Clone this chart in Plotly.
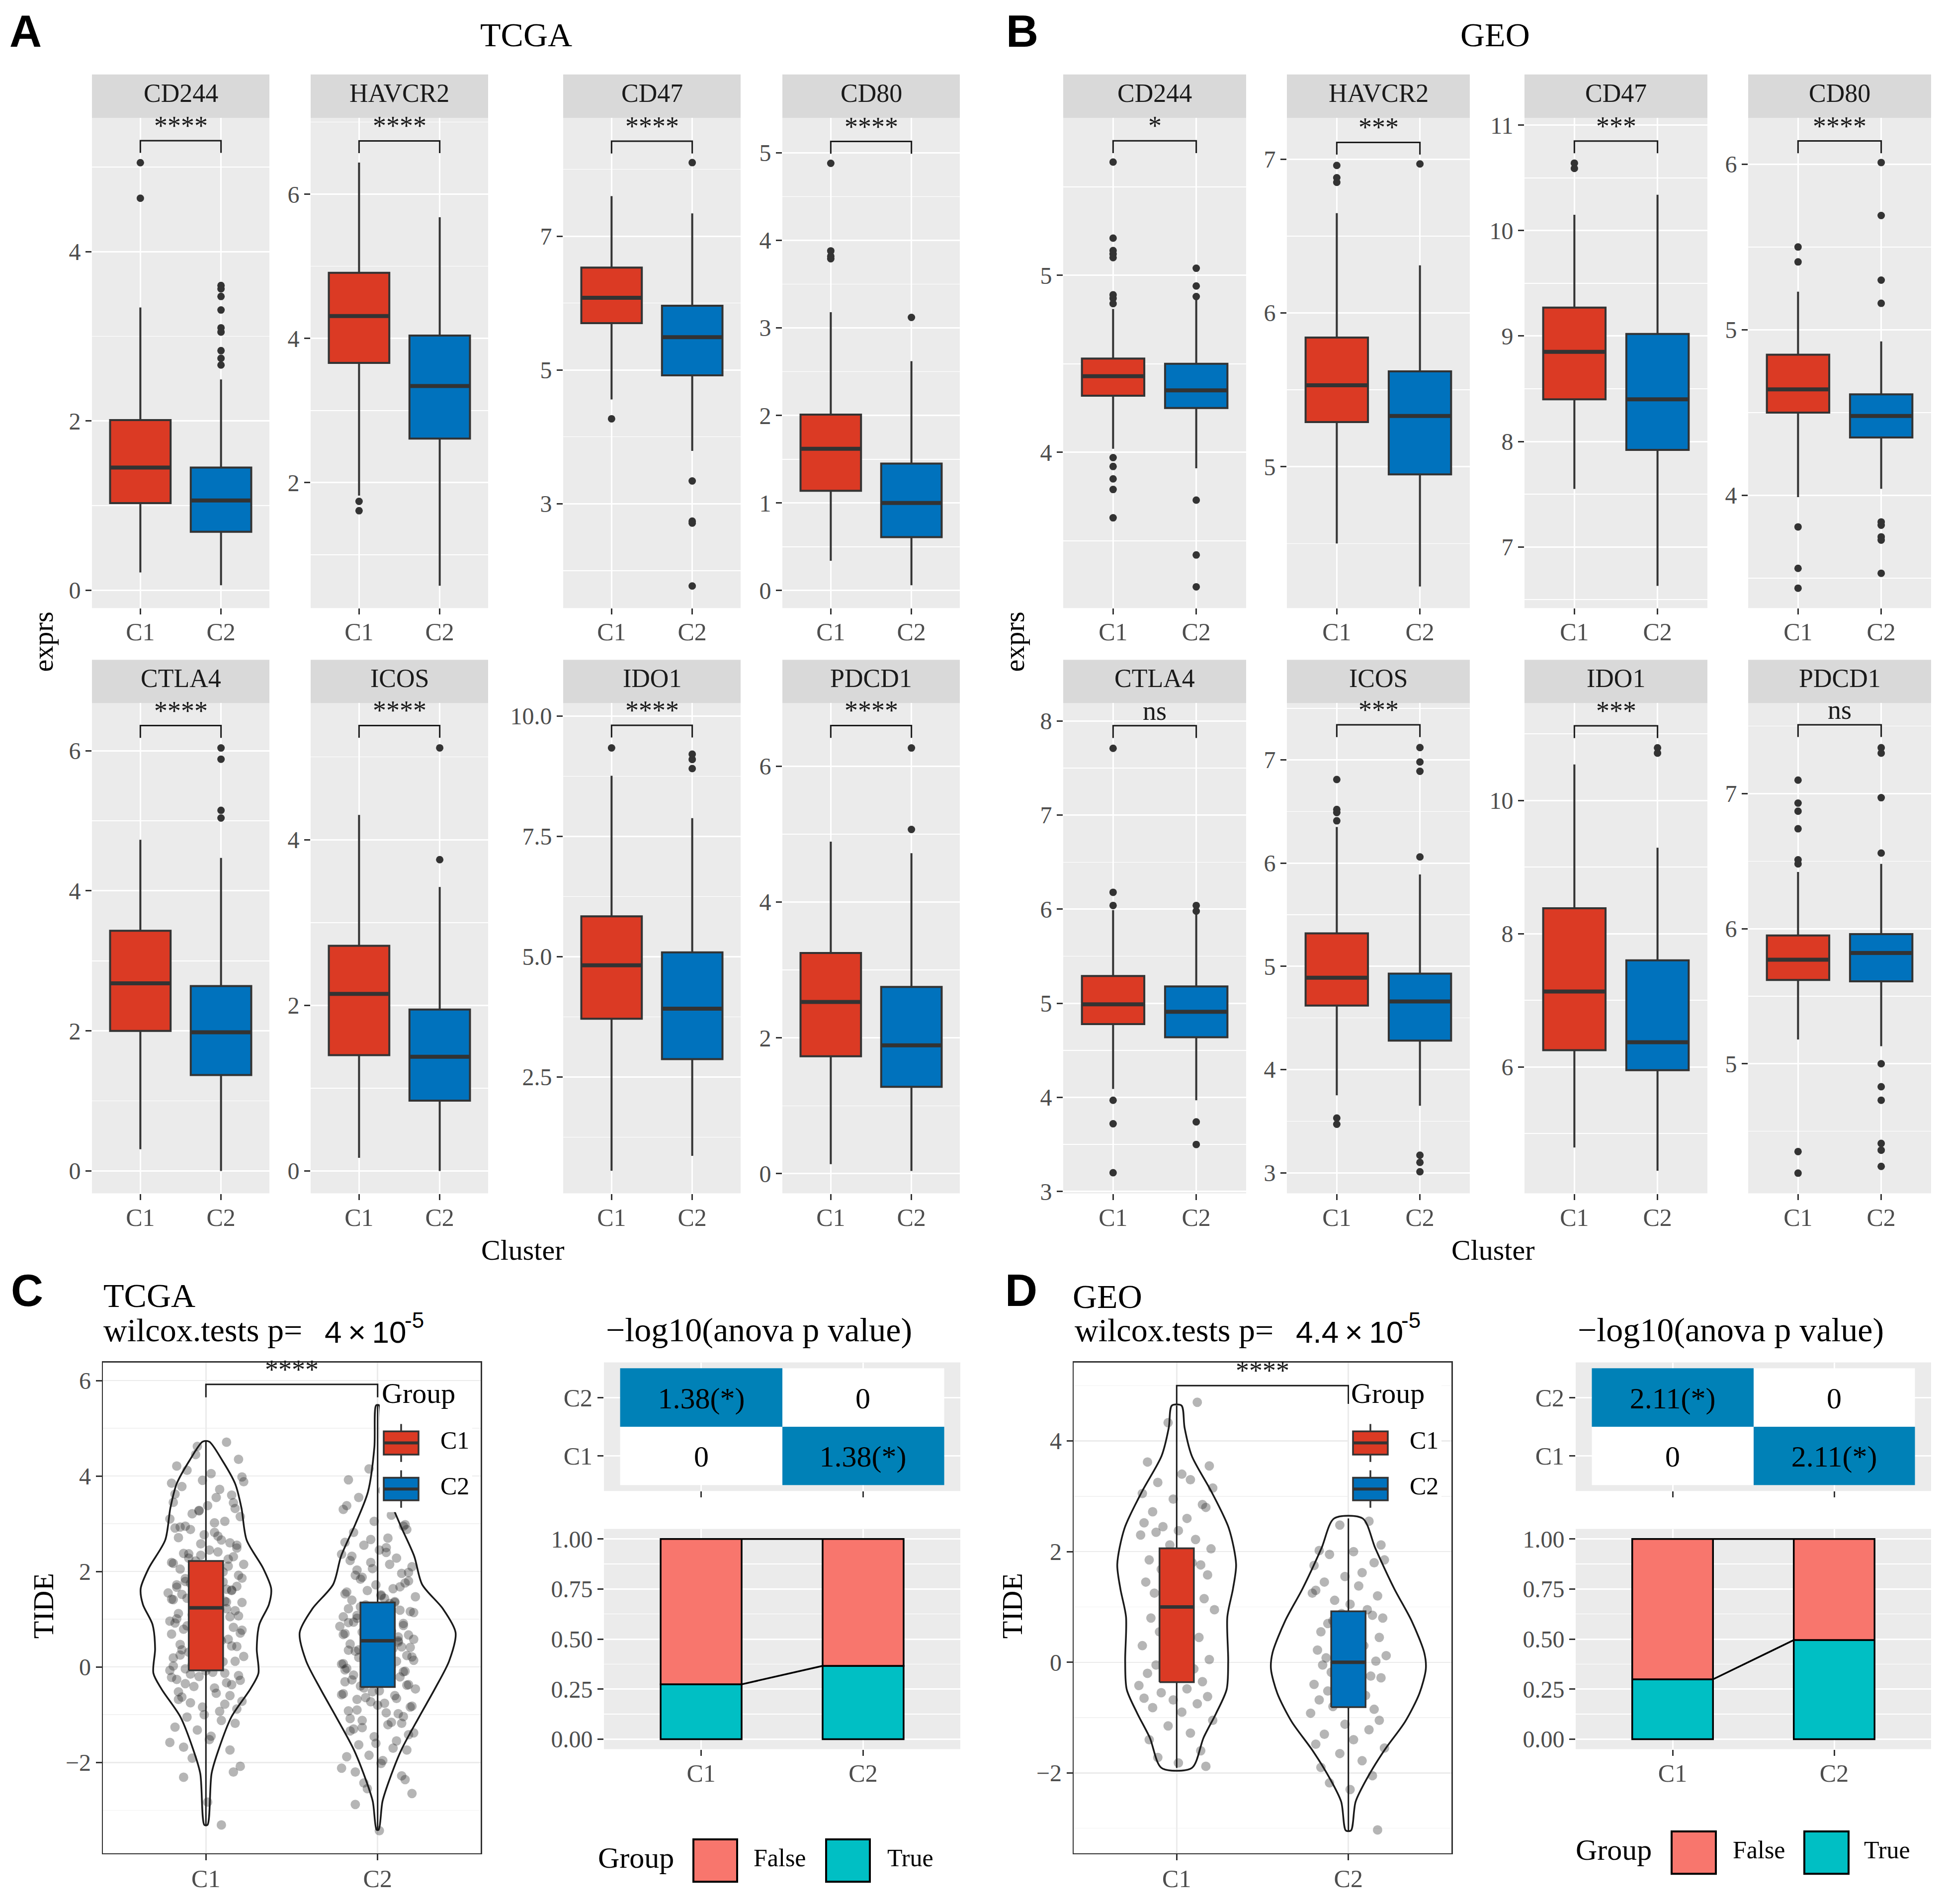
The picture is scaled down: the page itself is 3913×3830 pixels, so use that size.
import plotly.graph_objects as go

W, H = 3913, 3830
SERIF = "Liberation Serif"
SANS = "Liberation Sans"
RED = "#DB3A24"
BLUE = "#0072BD"
TILE_BLUE = "#0081B7"
FALSE_COL = "#F8766D"
TRUE_COL = "#00BFC4"
PANEL_BG = "#EBEBEB"
STRIP_BG = "#D9D9D9"
DARK = "#333333"
TICK_COL = "#4D4D4D"

# ---------------- data ----------------
clusters = ["C1", "C2"]
genes = ["CD244", "HAVCR2", "CD47", "CD80", "CTLA4", "ICOS", "IDO1", "PDCD1"]

# TCGA box statistics (per gene)
tcga_c1_low = [0.21, 1.82, 4.56, 0.34, 0.31, 0.16, 0.55, 0.14]
tcga_c1_q1 = [1.03, 3.66, 5.70, 1.14, 2.00, 1.40, 3.71, 1.73]
tcga_c1_med = [1.45, 4.31, 6.08, 1.62, 2.68, 2.14, 4.82, 2.53]
tcga_c1_q3 = [2.01, 4.91, 6.53, 2.01, 3.43, 2.72, 5.84, 3.25]
tcga_c1_high = [3.34, 6.44, 7.60, 3.18, 4.73, 4.30, 8.76, 4.89]
tcga_c2_low = [0.06, 0.57, 3.79, 0.06, 0.00, 0.00, 0.86, 0.04]
tcga_c2_q1 = [0.69, 2.61, 4.92, 0.61, 1.37, 0.85, 2.87, 1.28]
tcga_c2_med = [1.06, 3.34, 5.49, 1.00, 1.98, 1.38, 3.92, 1.89]
tcga_c2_q3 = [1.45, 4.04, 5.96, 1.45, 2.64, 1.95, 5.09, 2.75]
tcga_c2_high = [2.49, 5.68, 7.34, 2.62, 4.47, 3.43, 7.88, 4.72]
tcga_c1_out = [[5.05, 4.63], [1.74, 1.61], [4.27], [4.88, 3.88, 3.82, 3.79],
               [], [], [9.34], []]
tcga_c2_out = [[3.60, 3.56, 3.47, 3.31, 3.10, 3.05, 2.83, 2.74, 2.66], [],
               [8.10, 3.34, 2.74, 2.71, 1.77], [3.12], [6.04, 5.88, 5.15, 5.04],
               [5.11, 3.76], [9.21, 9.10, 8.91], [6.27, 5.07]]
tcga_sig = ["****", "****", "****", "****", "****", "****", "****", "****"]
tcga_bracket = [5.31, 6.74, 8.42, 5.13, 6.36, 5.38, 9.81, 6.60]

# GEO box statistics (per gene)
geo_c1_low = [4.02, 4.50, 7.55, 3.99, 4.09, 3.75, 4.79, 5.18]
geo_c1_q1 = [4.32, 5.29, 8.40, 4.50, 4.78, 4.62, 6.25, 5.62]
geo_c1_med = [4.43, 5.53, 8.85, 4.64, 4.99, 4.89, 7.13, 5.77]
geo_c1_q3 = [4.53, 5.84, 9.27, 4.85, 5.29, 5.32, 8.38, 5.95]
geo_c1_high = [4.81, 6.65, 10.15, 5.23, 5.99, 6.35, 10.54, 6.42]
geo_c2_low = [3.91, 4.22, 6.63, 4.04, 3.97, 3.65, 4.44, 5.13]
geo_c2_q1 = [4.25, 4.95, 7.92, 4.35, 4.64, 4.28, 5.95, 5.61]
geo_c2_med = [4.35, 5.33, 8.40, 4.48, 4.91, 4.66, 6.37, 5.82]
geo_c2_q3 = [4.50, 5.62, 9.02, 4.61, 5.18, 4.93, 7.60, 5.96]
geo_c2_high = [4.87, 6.31, 10.34, 4.93, 5.99, 5.89, 9.29, 6.48]
geo_c1_out = [[5.64, 5.21, 5.14, 5.12, 5.10, 4.89, 4.87, 4.84, 3.97, 3.92, 3.85, 3.79, 3.63],
              [6.96, 6.88, 6.85], [10.64, 10.59], [5.50, 5.41, 3.81, 3.56, 3.44],
              [7.71, 6.18, 6.04, 3.97, 3.72, 3.20], [6.81, 6.52, 6.49, 6.41, 3.53, 3.47],
              [], [7.10, 6.93, 6.87, 6.74, 6.51, 6.48, 4.35, 4.19]]
geo_c2_out = [[5.04, 4.94, 4.88, 3.73, 3.42, 3.24], [6.97], [],
              [6.01, 5.69, 5.30, 5.16, 3.84, 3.82, 3.75, 3.73, 3.53],
              [6.04, 5.98, 3.74, 3.50], [7.12, 6.98, 6.89, 6.06, 3.17, 3.10, 3.01],
              [10.79, 10.71], [7.34, 7.30, 6.97, 6.56, 5.00, 4.83, 4.73, 4.41, 4.36, 4.24]]
geo_sig = ["*", "***", "***", "****", "ns", "***", "***", "ns"]
geo_bracket = [5.76, 7.11, 10.85, 6.14, 7.95, 7.34, 11.12, 7.51]

# TIDE box statistics (C1, C2)
tide_tcga_low = [-3.31, -3.41]
tide_tcga_q1 = [-0.07, -0.42]
tide_tcga_med = [1.24, 0.55]
tide_tcga_q3 = [2.22, 1.35]
tide_tcga_high = [4.72, 5.48]
tide_geo_low = [-1.91, -3.05]
tide_geo_q1 = [-0.36, -0.81]
tide_geo_med = [1.00, 0.00]
tide_geo_q3 = [2.06, 0.92]
tide_geo_high = [4.64, 2.60]

# violin outlines: y levels and half-widths
tcga_c1_vy = [4.72, 4.34, 3.84, 3.33, 2.66, 2.07, 1.64, 1.31, 0.89, 0.38, -0.13, -0.46, -1.05, -1.73, -2.23, -3.31]
tcga_c1_vw = [0.019, 0.093, 0.170, 0.207, 0.237, 0.333, 0.380, 0.367, 0.311, 0.296, 0.306, 0.259, 0.148, 0.074, 0.033, 0.009]
tcga_c2_vy = [5.48, 4.60, 3.67, 2.99, 2.32, 1.73, 1.22, 0.72, 0.13, -0.46, -1.05, -1.73, -2.40, -2.82, -3.41]
tcga_c2_vw = [0.009, 0.019, 0.056, 0.130, 0.213, 0.259, 0.380, 0.454, 0.417, 0.333, 0.241, 0.139, 0.065, 0.028, 0.006]
geo_c1_vy = [4.64, 4.24, 3.73, 3.08, 2.42, 1.77, 1.33, 0.82, 0.02, -0.49, -0.92, -1.36, -1.91]
geo_c1_vw = [0.028, 0.046, 0.088, 0.203, 0.304, 0.346, 0.328, 0.295, 0.300, 0.291, 0.230, 0.157, 0.088]
geo_c2_vy = [2.60, 2.06, 1.33, 0.75, 0.17, -0.12, -0.56, -1.07, -1.58, -2.09, -2.52, -3.04]
geo_c2_vw = [0.083, 0.157, 0.267, 0.368, 0.442, 0.451, 0.414, 0.331, 0.212, 0.110, 0.042, 0.015]

# TIDE sample points
tcga_c1_tide = [4.71, 4.62, 4.35, 4.21, 4.05, 4.12, 3.98, 3.85, 3.72, 3.91, 3.60, 3.78, 3.55,
                3.45, 3.32, 3.21, 3.38, 3.10, 3.05, 3.28, 3.15, 2.95, 2.82, 2.71, 2.60, 2.88,
                2.55, 2.77, 2.66, 2.91, 2.45, 2.38, 2.31, 2.22, 2.15, 2.05, 2.41, 2.28, 2.11,
                2.34, 2.19, 2.02, 1.98, 1.92, 1.85, 1.78, 1.72, 1.66, 1.60, 1.55, 1.88, 1.75,
                1.69, 1.81, 1.63, 1.52, 1.48, 1.41, 1.35, 1.27, 1.20, 1.12, 1.05, 1.44, 1.31,
                1.18, 1.09, 1.38, 0.96, 0.88, 0.79, 0.71, 0.62, 0.55, 0.92, 0.83, 0.67, 0.58,
                0.47, 0.39, 0.31, 0.22, 0.15, 0.08, 0.02, 0.43, 0.27, 0.11, -0.04, -0.11,
                -0.18, -0.26, -0.33, -0.41, -0.08, -0.22, -0.37, -0.15, -0.55, -0.63, -0.72,
                -0.84, -0.93, -0.68, -0.78, -1.05, -1.18, -1.32, -1.45, -1.58, -1.74, -1.91,
                -2.08, -2.31, -2.83, -3.31,
                3.62, 3.44, 3.27, 3.02, 2.93, 2.74, 2.58, 2.49, 2.37, 2.26, 2.17, 2.08, 1.99,
                1.94, 1.86, 1.79, 1.73, 1.67, 1.61, 1.57, 1.50, 1.42, 1.36, 1.29, 1.22, 1.14,
                1.07, 1.01, 0.94, 0.86, 0.77, 0.69, 0.60, 0.51, 0.44, 0.36, 0.28, 0.19, 0.12,
                0.05, -0.01, -0.07, -0.13, -0.20, -0.28, -0.35, -0.44, -0.52, -0.60, -0.75,
                -0.88, -1.00, -1.12, -1.26, -1.52, -1.68, -2.20, 4.45, 3.88, 0.25]
tcga_c2_tide = [5.48, 4.15, 4.02, 3.92, 3.70, 3.55, 3.45, 3.30, 3.18, 3.05, 2.95, 2.82, 2.70,
                2.61, 2.88, 2.55, 2.45, 2.36, 2.28, 2.19, 2.10, 2.03, 2.40, 2.23, 1.96, 1.88,
                1.80, 1.72, 1.64, 1.57, 1.51, 1.92, 1.76, 1.60, 1.47, 1.40, 1.33, 1.26, 1.19,
                1.12, 1.05, 1.44, 1.30, 1.16, 1.08, 1.37, 1.22, 0.97, 0.91, 0.85, 0.79, 0.73,
                0.67, 0.61, 0.55, 0.94, 0.82, 0.70, 0.58, 0.88, 0.76, 0.48, 0.42, 0.36, 0.30,
                0.24, 0.18, 0.12, 0.06, 0.45, 0.33, 0.21, 0.09, 0.39, -0.03, -0.09, -0.15,
                -0.21, -0.27, -0.33, -0.40, -0.46, -0.12, -0.30, -0.06, -0.37, -0.52, -0.60,
                -0.68, -0.76, -0.84, -0.92, -0.98, -0.64, -0.80, -0.56, -1.04, -1.12, -1.21,
                -1.30, -1.38, -1.46, -1.16, -1.34, -1.55, -1.63, -1.74, -1.85, -1.96, -2.12,
                -2.28, -2.43, -2.65, -2.88, -3.43,
                3.85, 3.38, 2.98, 2.67, 2.50, 2.32, 2.15, 2.06, 1.98, 1.84, 1.68, 1.53, 1.49,
                1.35, 1.24, 1.14, 1.02, 0.99, 0.93, 0.87, 0.81, 0.74, 0.68, 0.63, 0.57, 0.52,
                0.47, 0.41, 0.35, 0.28, 0.20, 0.14, 0.07, 0.01, -0.04, -0.10, -0.17, -0.24,
                -0.31, -0.38, -0.44, -0.50, -0.58, -0.66, -0.73, -0.82, -0.90, -0.96, -1.08,
                -1.18, -1.27, -1.42, -1.60, -1.70, -1.88, -2.02, -2.20, -2.36, -2.55, 4.40]
geo_c1_tide = [4.70, 4.33, 3.55, 3.62, 3.40, 3.25, 3.15, 3.05, 3.30, 2.95, 2.85, 2.72, 2.60,
               2.52, 2.80, 2.45, 2.38, 2.30, 2.22, 2.12, 2.05, 2.35, 1.95, 1.85, 1.76, 1.68,
               1.58, 1.52, 1.80, 1.45, 1.35, 1.25, 1.15, 1.05, 0.95, 0.80, 0.65, 0.55, 0.45,
               0.38, 0.30, 0.15, 0.10, 0.05, -0.05, -0.12, -0.20, -0.28, -0.35, -0.42, -0.48,
               -0.55, -0.62, -0.68, -0.75, -0.82, -0.90, -0.65, -1.05, -1.15, -1.28, -1.40,
               -1.60, -1.72, -1.82, -1.88]
geo_c2_tide = [2.55, 2.48, 2.12, 2.02, 2.00, 1.95, 1.85, 1.75, 1.62, 1.55, 1.80, 1.45, 1.38,
               1.30, 1.20, 1.12, 1.05, 1.25, 0.95, 0.88, 0.80, 0.70, 0.62, 0.55, 0.85, 0.75,
               0.45, 0.38, 0.30, 0.22, 0.15, 0.08, 0.02, 0.35, 0.12, -0.05, -0.12, -0.18,
               -0.25, -0.32, -0.40, -0.46, -0.10, -0.28, -0.52, -0.60, -0.68, -0.75, -0.85,
               -0.92, -0.70, -0.80, -1.05, -1.12, -1.22, -1.30, -1.40, -1.48, -1.55, -1.65,
               -1.78, -1.90, -2.05, -2.18, -2.30, -3.03]
# horizontal jitter of the sample points
point_jitter = [0.12, -0.05, 0.19, -0.17, 0.03, -0.11, 0.21, -0.20, 0.08, -0.02, 0.15, -0.14, 0.06, -0.19, 0.17, -0.08, 0.01, -0.21, 0.11, -0.04,
                0.20, -0.12, 0.05, -0.16, 0.14, -0.09, 0.18, -0.01, 0.09, -0.18, 0.02, -0.13, 0.16, -0.06, 0.22, -0.15, 0.07, -0.10, 0.13, -0.03,
                -0.20, 0.04, -0.07, 0.19, -0.12, 0.10, -0.17, 0.00, 0.15, -0.22, 0.06, -0.09, 0.18, -0.02, 0.12, -0.14, 0.03, -0.19, 0.21, -0.05,
                0.08, -0.16, 0.14, -0.11, 0.01, 0.17, -0.08, 0.11, -0.21, 0.05, -0.13, 0.20, -0.04, 0.09, -0.18, 0.16, -0.01, 0.13, -0.15, 0.02,
                -0.10, 0.22, -0.06, 0.07, -0.19, 0.18, -0.03, 0.10, -0.12, 0.04, 0.19, -0.17, 0.12, -0.07, 0.00, -0.20, 0.15, -0.09, 0.06, -0.14,
                0.21, -0.02, 0.08, -0.16, 0.11, -0.11, 0.17, -0.05, 0.03, -0.21, 0.14, -0.08, 0.20, -0.13, 0.01, 0.09, -0.18, 0.16, -0.04, 0.05,
                -0.15, 0.07, -0.03, 0.18, -0.10, 0.13, -0.19, 0.02, 0.10, -0.07, 0.21, -0.12, 0.05, -0.17, 0.15, -0.01, 0.08, -0.20, 0.12, -0.06]

# anova heatmap and response proportions
anova_tcga = 1.38
anova_geo = 2.11
resp_groups = ["False", "True"]
tcga_true_frac = [0.274, 0.366]
geo_true_frac = [0.299, 0.495]

# ---------------- layout helpers ----------------
tcga_yrange = [[-0.21, 5.58], [0.26, 7.06], [1.44, 8.77], [-0.20, 5.40],
               [-0.32, 6.68], [-0.27, 5.65], [0.08, 10.27], [-0.29, 6.93]]
tcga_tick0 = [0, 0, 1, 0, 0, 0, 0, 0]
tcga_dtick = [2, 2, 2, 1, 2, 2, 2.5, 2]
tcga_fmt = ["", "", "", "", "", "", ".1f", ""]
geo_yrange = [[3.12, 5.89], [4.08, 7.27], [6.42, 11.07], [3.32, 6.28],
              [2.98, 8.19], [2.80, 7.55], [4.10, 11.46], [4.04, 7.67]]
geo_tick0 = [0, 0, 0, 0, 0, 0, 0, 0]
geo_dtick = [1, 1, 1, 1, 1, 1, 2, 1]
geo_fmt = ["", "", "", "", "", "", "", ""]

A_cols = [(185, 542), (625, 982), (1133, 1490), (1574, 1931)]
B_cols = [(2139, 2507), (2589, 2957), (3067, 3435), (3517, 3885)]
ROWS = [(228, 1223), (1416, 2411)]
STRIP_H = 88
TEXT_BIAS = -6
DY = 6          # vertical offset of the lower (C/D) section
LEG_DY = 14     # extra offset of the bottom Group legends

fig = go.Figure()
axes_layout = {}
shapes = []
annots = []
n_ax = [0]


def fx(x):
    return x / W


def fy(y):
    return 1 - y / H


def new_axes(x0, x1, y0, y1, xr, yr):
    n_ax[0] += 1
    n = n_ax[0]
    s = "" if n == 1 else str(n)
    axes_layout["xaxis" + s] = dict(domain=[fx(x0), fx(x1)], anchor="y" + s, range=xr)
    axes_layout["yaxis" + s] = dict(domain=[fy(y1), fy(y0)], anchor="x" + s, range=yr)
    return "x" + s, "y" + s, "xaxis" + s, "yaxis" + s


def tick_style(grid_color, gw, size=48):
    return dict(ticks="outside", ticklen=12, tickwidth=3, tickcolor=DARK,
                tickfont=dict(family=SERIF, size=size, color=TICK_COL),
                showgrid=True, gridcolor=grid_color, gridwidth=gw, zeroline=False,
                fixedrange=True)


def rect(x0, x1, y0, y1, fill, line_color=None, lw=0, layer="below"):
    shapes.append(dict(type="rect", xref="paper", yref="paper", x0=fx(x0), x1=fx(x1),
                       y0=fy(y1), y1=fy(y0), fillcolor=fill, layer=layer,
                       line=dict(width=lw, color=line_color or fill)))


def pline(x0, y0, x1, y1, color, lw):
    shapes.append(dict(type="line", xref="paper", yref="paper", x0=fx(x0), x1=fx(x1),
                       y0=fy(y0), y1=fy(y1), line=dict(color=color, width=lw), layer="above"))


def text(x, y, s, size, color="black", family=SERIF, xanchor="center", angle=0):
    annots.append(dict(x=fx(x), y=fy(y + TEXT_BIAS), xref="paper", yref="paper", text=s,
                       showarrow=False, xanchor=xanchor, yanchor="middle", textangle=angle,
                       font=dict(family=family, size=size, color=color)))


def add_box(xr, yr, c, low, q1, med, q3, high, width, color, lw, mw):
    fig.add_trace(go.Box(x=[c], q1=[q1], median=[med], q3=[q3], lowerfence=[low],
                         upperfence=[high], width=width, fillcolor=color,
                         line=dict(color=DARK, width=lw), whiskerwidth=0, boxpoints=False,
                         xaxis=xr, yaxis=yr, hoverinfo="skip", showlegend=False))
    fig.add_trace(go.Scatter(x=[c - width / 2, c + width / 2], y=[med, med], mode="lines",
                             line=dict(color=DARK, width=mw), xaxis=xr, yaxis=yr,
                             hoverinfo="skip", showlegend=False))


def add_box_scatter(xr, yr, c, low, q1, med, q3, high, width, color, lw, mw):
    # box built from scatter traces so it stacks above the jittered points
    h = width / 2
    for a, b in ((low, q1), (q3, high)):
        fig.add_trace(go.Scatter(x=[c, c], y=[a, b], mode="lines",
                                 line=dict(color="#1A1A1A", width=3), xaxis=xr, yaxis=yr,
                                 hoverinfo="skip", showlegend=False))
    fig.add_trace(go.Scatter(x=[c - h, c + h, c + h, c - h, c - h], y=[q1, q1, q3, q3, q1],
                             mode="lines", fill="toself", fillcolor=color,
                             line=dict(color=DARK, width=lw), xaxis=xr, yaxis=yr,
                             hoverinfo="skip", showlegend=False))
    fig.add_trace(go.Scatter(x=[c - h, c + h], y=[med, med], mode="lines",
                             line=dict(color=DARK, width=mw), xaxis=xr, yaxis=yr,
                             hoverinfo="skip", showlegend=False))


def box_panel(x0, x1, y0, y1, g, yrange, tick0, dtick, fmt,
              c1, c2, out1, out2, bracket, sig):
    xr, yr, xa, ya = new_axes(x0, x1, y0, y1, [0.4, 2.6], yrange)
    axes_layout[xa].update(tick_style("white", 3, 50), tickmode="array", tickvals=[1, 2],
                           ticktext=clusters, showline=False, ticklabelstandoff=-8)
    axes_layout[ya].update(tick_style("white", 3), tick0=tick0, dtick=dtick, tickformat=fmt,
                           showline=False,
                           minor=dict(tick0=tick0, dtick=dtick / 2, showgrid=True,
                                      gridcolor="white", gridwidth=1.5))
    rect(x0, x1, y0, y1, PANEL_BG)
    rect(x0, x1, y0 - STRIP_H, y0, STRIP_BG)
    text((x0 + x1) / 2, y0 - STRIP_H / 2, genes[g], 52, "#1A1A1A")
    for k, (st, col, out) in enumerate([(c1, RED, out1), (c2, BLUE, out2)]):
        c = k + 1
        add_box(xr, yr, c, st[0], st[1], st[2], st[3], st[4], 0.75, col, 4, 8)
        if out:
            fig.add_trace(go.Scatter(x=[c] * len(out), y=out, mode="markers",
                                     marker=dict(color=DARK, size=15), xaxis=xr, yaxis=yr,
                                     hoverinfo="skip", showlegend=False))
    tip = 0.025 * (yrange[1] - yrange[0])
    fig.add_trace(go.Scatter(x=[1, 1, 2, 2], y=[bracket - tip, bracket, bracket, bracket - tip],
                             mode="lines", line=dict(color="#1A1A1A", width=3), xaxis=xr,
                             yaxis=yr, hoverinfo="skip", showlegend=False))
    annots.append(dict(x=1.5, y=bracket, xref=xr, yref=yr, text=sig, showarrow=False,
                       yanchor="bottom", xanchor="center", yshift=-2,
                       font=dict(family=SERIF, size=54, color="#1A1A1A")))


def dataset_panels(cols, c1l, c1a, c1m, c1b, c1h, c2l, c2a, c2m, c2b, c2h,
                   o1, o2, yranges, t0, dt, fm, brk, sigs):
    for g in range(8):
        r, cidx = divmod(g, 4)
        x0, x1 = cols[cidx]
        y0, y1 = ROWS[r]
        box_panel(x0, x1, y0, y1, g, yranges[g], t0[g], dt[g], fm[g],
                  (c1l[g], c1a[g], c1m[g], c1b[g], c1h[g]),
                  (c2l[g], c2a[g], c2m[g], c2b[g], c2h[g]),
                  o1[g], o2[g], brk[g], sigs[g])


dataset_panels(A_cols, tcga_c1_low, tcga_c1_q1, tcga_c1_med, tcga_c1_q3, tcga_c1_high,
               tcga_c2_low, tcga_c2_q1, tcga_c2_med, tcga_c2_q3, tcga_c2_high,
               tcga_c1_out, tcga_c2_out, tcga_yrange, tcga_tick0, tcga_dtick, tcga_fmt,
               tcga_bracket, tcga_sig)
dataset_panels(B_cols, geo_c1_low, geo_c1_q1, geo_c1_med, geo_c1_q3, geo_c1_high,
               geo_c2_low, geo_c2_q1, geo_c2_med, geo_c2_q3, geo_c2_high,
               geo_c1_out, geo_c2_out, geo_yrange, geo_tick0, geo_dtick, geo_fmt,
               geo_bracket, geo_sig)

# titles / axis titles for A and B
text(1058, 66, "TCGA", 68)
text(3008, 66, "GEO", 68)
text(87, 1298, "exprs", 56, angle=-90)
text(2041, 1298, "exprs", 56, angle=-90)
text(1052, 2532, "Cluster", 58)
text(3004, 2532, "Cluster", 58)
for lx, ly, lt in [(51, 58, "A"), (2056, 58, "B"), (54, 2608 + DY, "C"), (2054, 2608 + DY, "D")]:
    text(lx, ly, "<b>" + lt + "</b>", 90, family=SANS)


# ---------------- violin panels ----------------
def violin_panel(x0, x1, y0, y1, yrange, vys, vws, pts, low, q1, med, q3, high,
                 bracket, tip, sig):
    xr, yr, xa, ya = new_axes(x0, x1, y0, y1, [0.4, 2.6], yrange)
    axes_layout[xa].update(tick_style("#EBEBEB", 2.5, 50), tickmode="array", tickvals=[1, 2],
                           ticktext=clusters, showline=True, mirror=True, linecolor=DARK,
                           linewidth=2.5, ticklabelstandoff=-6)
    axes_layout[ya].update(tick_style("#EBEBEB", 2.5), tick0=0, dtick=2, showline=True,
                           mirror=True, linecolor=DARK, linewidth=2.5,
                           minor=dict(tick0=0, dtick=1, showgrid=True, gridcolor="#F2F2F2",
                                      gridwidth=1.5))
    for k in range(2):
        c = k + 1
        vy, vw = vys[k], vws[k]
        xs = [c + w for w in vw] + [c - w for w in vw[::-1]] + [c + vw[0]]
        ys = list(vy) + list(vy[::-1]) + [vy[0]]
        fig.add_trace(go.Scatter(x=xs, y=ys, mode="lines",
                                 line=dict(color="#1A1A1A", width=3.5, shape="spline",
                                           smoothing=0.8),
                                 xaxis=xr, yaxis=yr, hoverinfo="skip", showlegend=False))
    for k in range(2):
        c = k + 1
        py = pts[k]
        px = [c + point_jitter[i % len(point_jitter)] for i in range(len(py))]
        fig.add_trace(go.Scatter(x=px, y=py, mode="markers",
                                 marker=dict(color="rgba(30,30,30,0.33)", size=19),
                                 xaxis=xr, yaxis=yr, hoverinfo="skip", showlegend=False))
    for k in range(2):
        add_box_scatter(xr, yr, k + 1, low[k], q1[k], med[k], q3[k], high[k], 0.2,
                        [RED, BLUE][k], 3.5, 7)
    fig.add_trace(go.Scatter(x=[1, 1, 2, 2], y=[bracket - tip, bracket, bracket, bracket - tip],
                             mode="lines", line=dict(color="#1A1A1A", width=3), xaxis=xr,
                             yaxis=yr, hoverinfo="skip", showlegend=False))
    annots.append(dict(x=1.5, y=bracket, xref=xr, yref=yr, text=sig, showarrow=False,
                       yanchor="bottom", xanchor="center", yshift=-2,
                       font=dict(family=SERIF, size=54, color="#1A1A1A")))


violin_panel(207, 967, 2748 + DY, 3744 + DY, [-3.90, 6.38], [tcga_c1_vy, tcga_c2_vy],
             [tcga_c1_vw, tcga_c2_vw], [tcga_c1_tide, tcga_c2_tide],
             tide_tcga_low, tide_tcga_q1, tide_tcga_med, tide_tcga_q3, tide_tcga_high,
             5.92, 0.27, "****")
violin_panel(2160, 2920, 2748 + DY, 3744 + DY, [-3.45, 5.42], [geo_c1_vy, geo_c2_vy],
             [geo_c1_vw, geo_c2_vw], [geo_c1_tide, geo_c2_tide],
             tide_geo_low, tide_geo_q1, tide_geo_med, tide_geo_q3, tide_geo_high,
             5.00, 0.33, "****")


def box_legend(dx, dy):
    rect(764 + dx, 950 + dx, 2786 + dy, 3046 + dy, "white", layer="above")
    text(766 + dx, 2810 + dy, "Group", 58, xanchor="left")
    for k, (ya, yb) in enumerate([(2882 + dy, 2929 + dy), (2976 + dy, 3022 + dy)]):
        xm = (772 + 842) / 2 + dx
        pline(xm, ya - 15, xm, ya, DARK, 3.5)
        pline(xm, yb, xm, yb + 15, DARK, 3.5)
        shapes.append(dict(type="rect", xref="paper", yref="paper", x0=fx(772 + dx),
                           x1=fx(842 + dx), y0=fy(yb), y1=fy(ya), fillcolor=[RED, BLUE][k],
                           line=dict(color=DARK, width=3.5), layer="above"))
        pline(772 + dx, (ya + yb) / 2, 842 + dx, (ya + yb) / 2, DARK, 6)
        text(884 + dx, (ya + yb) / 2, clusters[k], 50, xanchor="left")


box_legend(0, DY + 6)
box_legend(1950, DY + 6)

# violin titles
THIN = "\u2009"
text(206, 2618 + DY, "TCGA", 68, xanchor="left")
text(206, 2688 + DY, "wilcox.tests p=", 66, xanchor="left")
text(651, 2692 + DY, "4" + THIN + "\u00d7" + THIN + "10", 62, family=SANS, xanchor="left")
text(812, 2668 + DY, "-5", 44, family=SANS, xanchor="left")
text(2156, 2620 + DY, "GEO", 68, xanchor="left")
text(2160, 2688 + DY, "wilcox.tests p=", 66, xanchor="left")
text(2605, 2692 + DY, "4.4" + THIN + "\u00d7" + THIN + "10", 62, family=SANS, xanchor="left")
text(2817, 2668 + DY, "-5", 44, family=SANS, xanchor="left")
text(87, 3248 + DY, "TIDE", 58, angle=-90)
text(2036, 3248 + DY, "TIDE", 58, angle=-90)


# ---------------- anova heatmap + proportion bars ----------------
def anova_panels(x0, x1, val, true_frac, leg):
    hx, hy, hxa, hya = new_axes(x0, x1, 2748 + DY, 3009 + DY, [0.4, 2.6], [0.4, 2.6])
    axes_layout[hxa].update(tick_style("white", 3), tickmode="array", tickvals=[1, 2],
                            showticklabels=False)
    axes_layout[hya].update(tick_style("white", 3, 50), tickmode="array", tickvals=[1, 2],
                            ticktext=clusters)
    rect(x0, x1, 2748 + DY, 3009 + DY, PANEL_BG)
    lab = "%.2f(*)" % val
    fig.add_trace(go.Heatmap(x=[1, 2], y=[1, 2], z=[[0, val], [val, 0]],
                             text=[["0", lab], [lab, "0"]], texttemplate="%{text}",
                             textfont=dict(family=SERIF, size=60, color="black"),
                             colorscale=[[0, "white"], [1, TILE_BLUE]], zmin=0, zmax=val,
                             showscale=False, xaxis=hx, yaxis=hy, hoverinfo="skip"))
    text(x0 + 2, 2688 + DY, "\u2212log10(anova p value)", 68, xanchor="left")

    bx, by, bxa, bya = new_axes(x0, x1, 3086 + DY, 3533 + DY, [0.4, 2.6], [-0.05, 1.05])
    axes_layout[bxa].update(tick_style("white", 3, 50), tickmode="array", tickvals=[1, 2],
                            ticktext=clusters, ticklabelstandoff=-8)
    axes_layout[bya].update(tick_style("white", 3), tick0=0, dtick=0.25, tickformat=".2f",
                            minor=dict(tick0=0, dtick=0.125, showgrid=True, gridcolor="white",
                                       gridwidth=1.5))
    rect(x0, x1, 3086 + DY, 3533 + DY, PANEL_BG)
    false_frac = [1 - t for t in true_frac]
    fig.add_trace(go.Bar(x=[1, 2], y=true_frac, base=[0, 0], width=0.5,
                         marker=dict(color=TRUE_COL, line=dict(color="black", width=3.5)),
                         xaxis=bx, yaxis=by, hoverinfo="skip", showlegend=False))
    fig.add_trace(go.Bar(x=[1, 2], y=false_frac, base=true_frac, width=0.5,
                         marker=dict(color=FALSE_COL, line=dict(color="black", width=3.5)),
                         xaxis=bx, yaxis=by, hoverinfo="skip", showlegend=False))
    for yy in ([true_frac[0], true_frac[1]], [1, 1]):
        fig.add_trace(go.Scatter(x=[1.25, 1.75], y=yy, mode="lines",
                                 line=dict(color="black", width=3.5), xaxis=bx, yaxis=by,
                                 hoverinfo="skip", showlegend=False))
    gx, gy, keys = leg
    gy = gy + DY + LEG_DY
    text(gx, gy, "Group", 60, xanchor="left")
    for (kx0, kx1, lx), col, name in zip(keys, [FALSE_COL, TRUE_COL], resp_groups):
        shapes.append(dict(type="rect", xref="paper", yref="paper", x0=fx(kx0), x1=fx(kx1),
                           y0=fy(gy + 43), y1=fy(gy - 43), fillcolor=col,
                           line=dict(color="black", width=4), layer="above"))
        text(lx, gy, name, 50, xanchor="left")


anova_panels(1215, 1932, anova_tcga, tcga_true_frac,
             (1201, 3745, [(1395, 1483, 1514), (1662, 1750, 1783)]))
anova_panels(3170, 3885, anova_geo, geo_true_frac,
             (3168, 3729, [(3363, 3452, 3484), (3630, 3719, 3748)]))

fig.update_layout(width=W, height=H, margin=dict(l=0, r=0, t=0, b=0),
                  paper_bgcolor="white", plot_bgcolor="rgba(0,0,0,0)",
                  showlegend=False, barmode="overlay", boxmode="overlay",
                  font=dict(family=SERIF, color="black"),
                  shapes=shapes, annotations=annots, **axes_layout)

fig.write_html("out.html", config={"displayModeBar": False, "staticPlot": True},
               post_script=("document.documentElement.style.margin='0';"
                            "document.documentElement.style.overflow='hidden';"
                            "document.body.style.margin='0';"
                            "document.body.style.padding='0';"
                            "document.body.style.overflow='hidden';"))
